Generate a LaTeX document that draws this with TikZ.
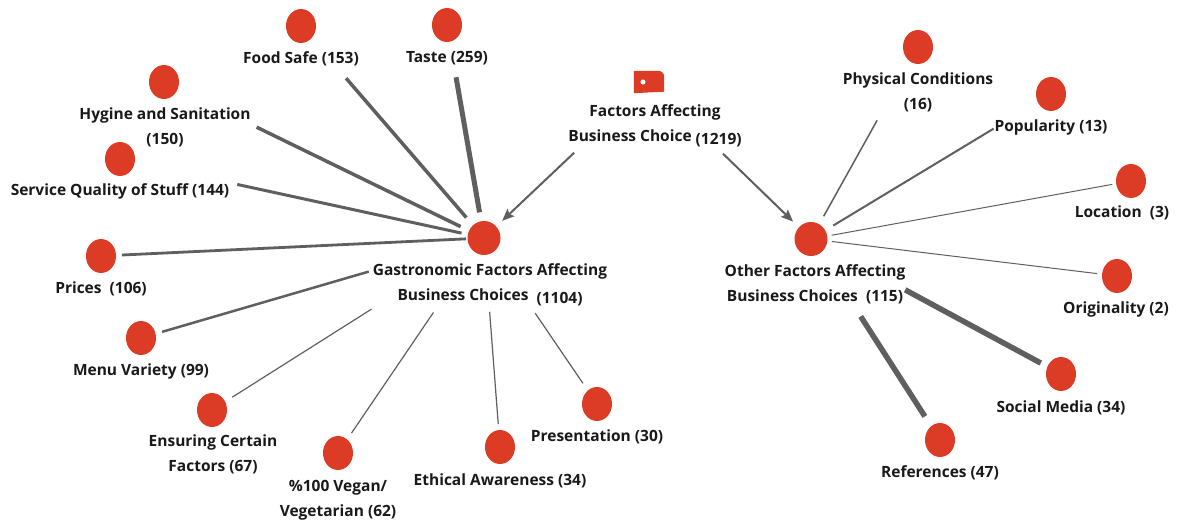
\documentclass[tikz,border=0pt]{standalone}
\usepackage{fontspec}
\setmainfont{Open Sans}
\usetikzlibrary{arrows.meta,shapes.geometric}
\definecolor{nodered}{RGB}{220,60,38}
\definecolor{edgegray}{RGB}{95,95,95}
\newcommand{\cntlow}[1]{\raisebox{-2.5pt}{#1}}
\begin{document}
\begin{tikzpicture}[x=1pt,y=-1pt,
  dot/.style={ellipse, fill=nodered, draw=none, minimum width=30pt, minimum height=34pt, inner sep=0pt},
  bigdot/.style={dot, minimum width=33pt, minimum height=34pt},
  lbl/.style={font=\fontsize{15.5}{25}\selectfont\bfseries, align=center, inner sep=0pt, text=black!90},
  edge/.style={draw=edgegray, line cap=butt},
  arr/.style={draw=edgegray, line width=2pt, -{Stealth[length=12pt,width=10pt,inset=2pt]}}
]
\useasboundingbox (0,0) rectangle (1187,526);
% root tag
\node[minimum width=30pt, minimum height=22pt, inner sep=0pt] (root) at (649,82) {};
\fill[nodered] (root.south west) -- (root.north west) -- ([xshift=-6pt]root.north east)
  arc[start angle=90, end angle=0, radius=6pt] -- ([yshift=1.5pt]root.south east) -- cycle;
\fill[white] ([xshift=-6pt]root.center) circle (2.5pt);
\node[lbl] (rootL) at (655,126) {Factors Affecting\\Business Choice \cntlow{(1219)}};

% main nodes
\node[bigdot] (gastro) at (484,238) {};
\node[lbl] (gastroL) at (490,285) {Gastronomic Factors Affecting\\Business Choices\ \ \cntlow{(1104)}};
\node[bigdot] (other) at (811,239) {};
\node[lbl] (otherL) at (815,284) {Other Factors Affecting\\Business Choices\ \ (115)};

% gastronomic children
\node[dot] (taste) at (447,25) {};
\node[lbl] (tasteL) at (447,58) {Taste (259)};
\node[dot] (food) at (301,26) {};
\node[lbl] (foodL) at (301,59) {Food Safe (153)};
\node[dot] (hyg) at (164,82) {};
\node[lbl] (hygL) at (165,127.5) {Hygine and Sanitation\\(150)};
\node[dot] (serv) at (120,159) {};
\node[lbl] (servL) at (120,191) {Service Quality of Stuff (144)};
\node[dot] (prices) at (101,256) {};
\node[lbl] (pricesL) at (101,289) {Prices\ \ (106)};
\node[dot] (menu) at (141,338) {};
\node[lbl] (menuL) at (141,371) {Menu Variety (99)};
\node[dot] (ens) at (212,410) {};
\node[lbl] (ensL) at (213,454.5) {Ensuring Certain\\Factors (67)};
\node[dot] (vegan) at (338,453) {};
\node[lbl] (veganL) at (338,500) {\%100 Vegan/\\Vegetarian (62)};
\node[dot] (eth) at (500,447) {};
\node[lbl] (ethL) at (500,481) {Ethical Awareness (34)};
\node[dot] (pres) at (597,404) {};
\node[lbl] (presL) at (597,437) {Presentation (30)};

% other children
\node[dot] (phys) at (918,47) {};
\node[lbl] (physL) at (918,92.5) {Physical Conditions\\(16)};
\node[dot] (pop) at (1051,94) {};
\node[lbl] (popL) at (1051,127) {Popularity (13)};
\node[dot] (loc) at (1131,181) {};
\node[lbl] (locL) at (1122,213) {Location\ \ (3)};
\node[dot] (orig) at (1117,276) {};
\node[lbl] (origL) at (1116,309) {Originality (2)};
\node[dot] (soc) at (1061,374) {};
\node[lbl] (socL) at (1061,408) {Social Media (34)};
\node[dot] (ref) at (940,440) {};
\node[lbl] (refL) at (940,473) {References (47)};

% arrows
\draw[arr, shorten <=103pt, shorten >=25pt] (root.center) -- (gastro.center);
\draw[arr, shorten <=103pt, shorten >=25pt] (root.center) -- (other.center);

% gastronomic edges
\draw[edge, line width=5pt,   shorten <=53pt,  shorten >=26pt]  (taste.center) -- (gastro.center);
\draw[edge, line width=3.5pt, shorten <=69pt,  shorten >=27pt]  (food.center) -- (gastro.center);
\draw[edge, line width=3.5pt, shorten <=103pt, shorten >=26pt]  (hyg.center) -- (gastro.center);
\draw[edge, line width=3pt,   shorten <=120pt, shorten >=23pt]  (serv.center) -- (gastro.center);
\draw[edge, line width=2.8pt, shorten <=21pt,  shorten >=18pt]  (prices.center) -- (gastro.center);
\draw[edge, line width=2.5pt, shorten <=22pt,  shorten >=120pt] (menu.center) -- (gastro.center);
\draw[edge, line width=1.2pt, shorten <=24pt,  shorten >=133pt] (ens.center) -- (gastro.center);
\draw[edge, line width=1.2pt, shorten <=24pt,  shorten >=90pt]  (vegan.center) -- (gastro.center);
\draw[edge, line width=1.2pt, shorten <=23pt,  shorten >=74pt]  (eth.center) -- (gastro.center);
\draw[edge, line width=1.2pt, shorten <=25pt,  shorten >=91pt]  (pres.center) -- (gastro.center);

% other edges
\draw[edge, line width=1.5pt, shorten <=84pt,  shorten >=26pt]  (phys.center) -- (other.center);
\draw[edge, line width=2pt,   shorten <=67pt,  shorten >=26pt]  (pop.center) -- (other.center);
\draw[edge, line width=1pt,   shorten <=19pt,  shorten >=21pt]  (loc.center) -- (other.center);
\draw[edge, line width=1pt,   shorten <=20pt,  shorten >=21pt]  (orig.center) -- (other.center);
\draw[edge, line width=5.5pt, shorten <=23pt,  shorten >=107pt] (soc.center) -- (other.center);
\draw[edge, line width=5.5pt, shorten <=28pt,  shorten >=92pt]  (ref.center) -- (other.center);
\end{tikzpicture}
\end{document}
